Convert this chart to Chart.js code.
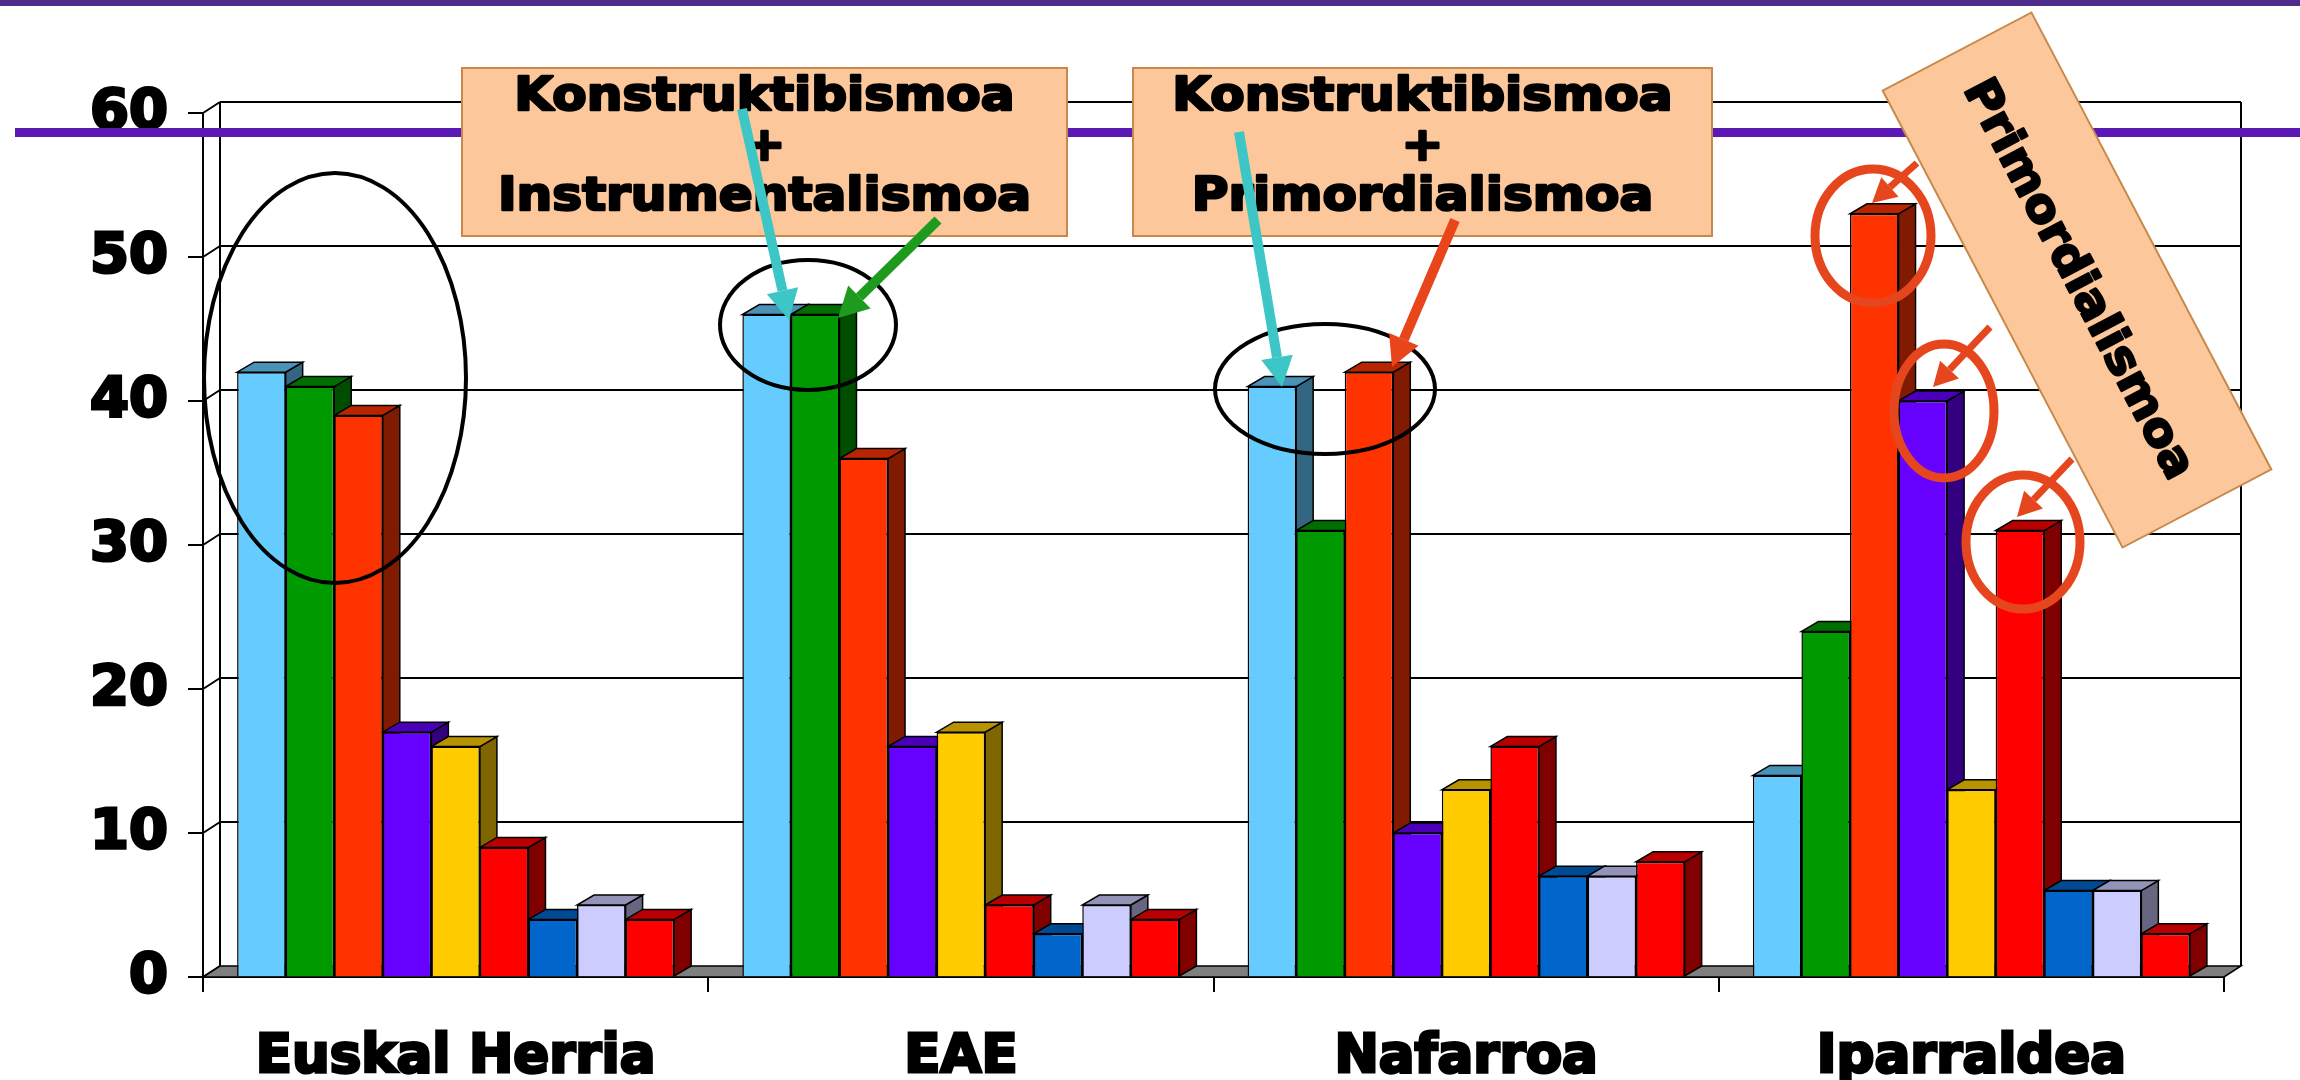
<!DOCTYPE html>
<html><head><meta charset="utf-8">
<script src="https://cdn.jsdelivr.net/npm/chart.js@4/dist/chart.umd.min.js"></script>
<style>html,body{margin:0;padding:0;background:#fff;overflow:hidden}canvas{display:block}</style>
</head><body>
<canvas id="c" width="2300" height="1080"></canvas>
<script>
// ---- data ----
const categories = ['Euskal Herria', 'EAE', 'Nafarroa', 'Iparraldea'];
const lightBlueValues = [42, 46, 41, 14];
const greenValues     = [41, 46, 31, 24];
const orangeValues    = [39, 36, 42, 53];
const purpleValues    = [17, 16, 10, 40];
const yellowValues    = [16, 17, 13, 13];
const redValues       = [9, 5, 16, 31];
const blueValues      = [4, 3, 7, 6];
const lavenderValues  = [5, 5, 7, 6];
const darkRedValues   = [4, 4, 8, 3];
const yTickValues = [0, 10, 20, 30, 40, 50, 60];
const box1Lines = ['Konstruktibismoa', '+', 'Instrumentalismoa'];
const box2Lines = ['Konstruktibismoa', '+', 'Primordialismoa'];
const box3Text = 'Primordialismoa';

const seriesValues = [lightBlueValues, greenValues, orangeValues, purpleValues, yellowValues,
                      redValues, blueValues, lavenderValues, darkRedValues];
const seriesColors = ['#66CCFF', '#009900', '#FF3300', '#6600FF', '#FFCC00',
                      '#FF0000', '#0066CC', '#CCCCFF', '#FF0000'];

const FONT = "'DejaVu Sans', 'Liberation Sans', sans-serif";
const DX = 17, DYB = -10, DYW = -11;

function shade(hex, f) {
  const n = parseInt(hex.slice(1), 16);
  const r = Math.round(((n >> 16) & 255) * f), g = Math.round(((n >> 8) & 255) * f), b = Math.round((n & 255) * f);
  return `rgb(${r},${g},${b})`;
}
function poly(ctx, pts, fill, stroke, lw) {
  ctx.beginPath();
  ctx.moveTo(pts[0][0], pts[0][1]);
  for (let i = 1; i < pts.length; i++) ctx.lineTo(pts[i][0], pts[i][1]);
  ctx.closePath();
  if (fill) { ctx.fillStyle = fill; ctx.fill(); }
  if (stroke) { ctx.strokeStyle = stroke; ctx.lineWidth = lw || 1.5; ctx.stroke(); }
}
function line(ctx, x1, y1, x2, y2) {
  ctx.beginPath(); ctx.moveTo(x1, y1); ctx.lineTo(x2, y2); ctx.stroke();
}

const threeD = {
  id: 'threeD',
  beforeDatasetsDraw(chart) {
    const { ctx, chartArea: a, scales: { x, y } } = chart;
    const y0 = y.getPixelForValue(0);
    const yTop = y.getPixelForValue(60);
    ctx.save();
    ctx.strokeStyle = '#000';
    ctx.lineWidth = 2;
    yTickValues.forEach(v => {
      const py = y.getPixelForValue(v);
      line(ctx, a.left, py, a.left + DX, py + DYW);
      if (v > 0) line(ctx, a.left + DX, py + DYW, a.right + DX, py + DYW);
    });
    line(ctx, a.left + DX, yTop + DYW, a.left + DX, y0 + DYW);
    line(ctx, a.right + DX, yTop + DYW, a.right + DX, y0 + DYW);
    poly(ctx, [[a.left, y0], [a.right, y0], [a.right + DX, y0 + DYW], [a.left + DX, y0 + DYW]], '#7f7f7f', '#000', 1.5);
    const bars = [];
    chart.data.datasets.forEach((ds, i) => {
      chart.getDatasetMeta(i).data.forEach(el => {
        bars.push({ l: el.x - el.width / 2, r: el.x + el.width / 2, t: el.y, b: el.base, c: ds.backgroundColor });
      });
    });
    bars.sort((p, q) => p.l - q.l);
    bars.forEach(br => {
      poly(ctx, [[br.r, br.t], [br.r + DX, br.t + DYB], [br.r + DX, br.b + DYB], [br.r, br.b]], shade(br.c, 0.5), '#000', 1.5);
      poly(ctx, [[br.l, br.t], [br.r, br.t], [br.r + DX, br.t + DYB], [br.l + DX, br.t + DYB]], shade(br.c, 0.72), '#000', 1.5);
    });
    ctx.restore();
  }
};

function arrow(ctx, x1, y1, x2, y2, color, lw, hl, hw) {
  const ang = Math.atan2(y2 - y1, x2 - x1);
  const bx = x2 - Math.cos(ang) * hl, by = y2 - Math.sin(ang) * hl;
  ctx.save();
  ctx.strokeStyle = color; ctx.fillStyle = color; ctx.lineWidth = lw; ctx.lineCap = 'butt';
  line(ctx, x1, y1, bx, by);
  ctx.beginPath();
  ctx.moveTo(x2, y2);
  ctx.lineTo(bx + Math.sin(ang) * hw, by - Math.cos(ang) * hw);
  ctx.lineTo(bx - Math.sin(ang) * hw, by + Math.cos(ang) * hw);
  ctx.closePath(); ctx.fill();
  ctx.restore();
}
function ellipse(ctx, cx, cy, rx, ry, color, lw) {
  ctx.save(); ctx.strokeStyle = color; ctx.lineWidth = lw;
  ctx.beginPath(); ctx.ellipse(cx, cy, rx, ry, 0, 0, Math.PI * 2); ctx.stroke(); ctx.restore();
}
function heavyText(ctx, t, x, y) {
  ctx.lineWidth = 2.5; ctx.strokeStyle = '#000'; ctx.lineJoin = 'round';
  ctx.strokeText(t, x, y); ctx.fillText(t, x, y);
}
function textBox(ctx, x1, y1, x2, y2, lines, ys) {
  ctx.save();
  poly(ctx, [[x1, y1], [x2, y1], [x2, y2], [x1, y2]], '#FCC89B', '#C8884A', 2);
  ctx.fillStyle = '#000';
  ctx.font = `bold 46px ${FONT}`;
  ctx.textAlign = 'center'; ctx.textBaseline = 'middle';
  const cx = (x1 + x2) / 2;
  lines.forEach((t, i) => {
    ctx.save(); ctx.translate(cx, ys[i]); ctx.scale(1.09, 1); heavyText(ctx, t, 0, 0); ctx.restore();
  });
  ctx.restore();
}

const annotations = {
  id: 'annotations',
  afterDraw(chart) {
    const ctx = chart.ctx;
    ctx.save();
    ctx.fillStyle = '#4E2C8C'; ctx.fillRect(0, 0, 2300, 6);
    ctx.fillStyle = '#5A18B4'; ctx.fillRect(15, 128, 2285, 9);
    ellipse(ctx, 335, 378, 131, 205, '#000', 4);
    ellipse(ctx, 808, 325, 88, 65, '#000', 4);
    ellipse(ctx, 1325, 389, 110, 65, '#000', 4);
    const red = '#E6461E';
    ellipse(ctx, 1873, 236, 58, 67, red, 9);
    ellipse(ctx, 1944, 411, 50, 67, red, 9);
    ellipse(ctx, 2023, 542, 57, 67, red, 9);
    textBox(ctx, 462, 68, 1067, 236, box1Lines, [98, 148, 198]);
    textBox(ctx, 1133, 68, 1712, 236, box2Lines, [98, 148, 198]);
    arrow(ctx, 742, 109, 789, 320, '#3CC6C6', 10, 30, 16);
    arrow(ctx, 938, 220, 838, 318, '#1E9A1E', 10, 30, 16);
    arrow(ctx, 1239, 132, 1282, 387, '#3CC6C6', 10, 30, 16);
    arrow(ctx, 1455, 220, 1392, 367, '#E8461A', 10, 30, 16);
    arrow(ctx, 1917, 163, 1872, 203, red, 7, 24, 13);
    arrow(ctx, 1990, 327, 1933, 387, red, 7, 24, 13);
    arrow(ctx, 2072, 459, 2017, 517, red, 7, 24, 13);
    ctx.save();
    ctx.translate(2077, 280);
    ctx.rotate(62.3 * Math.PI / 180);
    poly(ctx, [[-258, -84], [258, -84], [258, 84], [-258, 84]], '#FCC89B', '#C8884A', 2);
    ctx.fillStyle = '#000';
    ctx.font = `bold 46px ${FONT}`;
    ctx.textAlign = 'center'; ctx.textBaseline = 'middle';
    ctx.scale(1.05, 1);
    heavyText(ctx, box3Text, 0, 0);
    ctx.restore();
    ctx.restore();
  }
};

new Chart(document.getElementById('c'), {
  type: 'bar',
  data: {
    labels: categories,
    datasets: seriesValues.map((vals, i) => ({
      data: vals,
      backgroundColor: seriesColors[i],
      borderColor: '#000',
      borderWidth: 1.5,
      categoryPercentage: 0.865,
      barPercentage: 1.0
    }))
  },
  options: {
    responsive: false,
    animation: false,
    devicePixelRatio: 1,
    layout: { padding: { top: 113, right: 76, left: 0, bottom: 0 } },
    plugins: { legend: { display: false }, tooltip: { enabled: false } },
    scales: {
      x: {
        grid: { drawOnChartArea: false, drawTicks: true, tickLength: 15, color: '#000', lineWidth: 2 },
        border: { display: true, color: '#000', width: 2 },
        ticks: { color: '#000', font: { family: FONT, size: 53, weight: 'bold' }, padding: 34, maxRotation: 0,
                 textStrokeColor: '#000', textStrokeWidth: 3 },
        afterFit(s) { s.height = 103; s.paddingLeft = 0; s.paddingRight = 0; }
      },
      y: {
        min: 0, max: 60,
        grid: { drawOnChartArea: false, drawTicks: true, tickLength: 15, color: '#000', lineWidth: 2 },
        border: { display: true, color: '#000', width: 2 },
        ticks: { stepSize: 10, color: '#000', font: { family: FONT, size: 56, weight: 'bold' }, padding: 20,
                 textStrokeColor: '#000', textStrokeWidth: 3 },
        afterFit(s) { s.width = 203; s.paddingTop = 0; s.paddingBottom = 0; }
      }
    }
  },
  plugins: [threeD, annotations]
});
</script>
</body></html>
